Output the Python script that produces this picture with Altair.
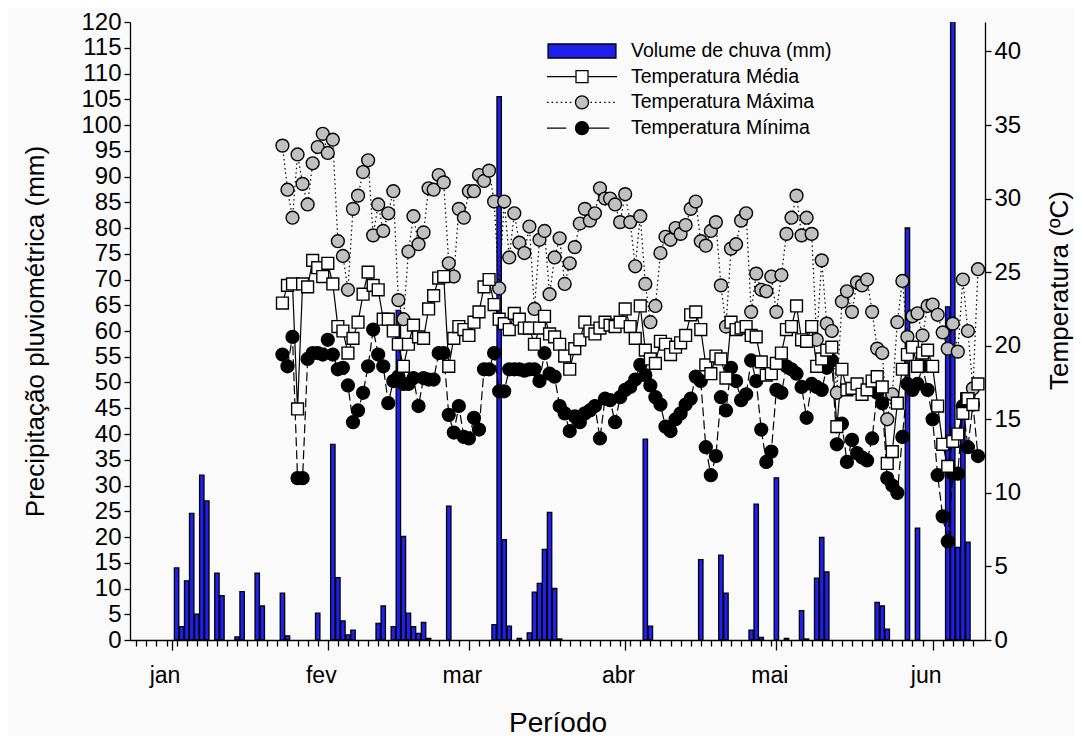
import json
import altair as alt
import pandas as pd

FONT = "Liberation Sans"
BLUE = "#2020ee"
GRAY = "#c0c0c0"

# ---- data (day index: 0 = 1 Jan) ----
rain_day = [1, 2, 3, 4, 5, 6, 7, 9, 10, 13, 14, 17, 18, 22, 23, 29, 32, 33, 34, 35, 36,
            41, 42, 44, 45, 46, 47, 48, 49, 50, 51, 55, 64, 65, 66, 67, 69, 71, 72, 73,
            74, 75, 76, 77, 94, 95, 105, 109, 110, 115, 116, 117, 120, 122, 125, 126,
            128, 129, 130, 140, 141, 142, 146, 148, 154, 155, 156, 157, 158]
rain_mm = [14.0, 2.6, 11.5, 24.6, 5.0, 32.0, 27.0, 13.0, 8.6, 0.6, 9.4, 13.0, 6.6, 9.1,
           0.8, 5.2, 38.0, 12.1, 3.7, 1.0, 1.9, 3.2, 6.6, 2.6, 64.0, 20.1, 5.2, 2.6, 1.3,
           3.4, 0.3, 26.0, 3.0, 105.5, 19.5, 2.7, 0.3, 1.4, 9.3, 11.0, 17.6, 24.8, 10.0,
           0.2, 39.0, 2.7, 15.6, 16.5, 9.1, 1.9, 26.4, 0.5, 31.5, 0.3, 5.7, 0.2, 12.0,
           19.9, 13.2, 7.3, 6.6, 2.1, 80.0, 21.7, 64.7, 125.0, 18.0, 48.0, 19.0]

temp_day = list(range(22, 161))

t_max = [33.6, 30.6, 28.7, 33.0, 31.0, 29.6, 32.4, 33.5, 34.4, 33.1,
         34.0, 27.1, 26.1, 23.8, 29.3, 30.2, 31.8, 32.6, 27.5, 29.6,
         27.8, 29.0, 30.5, 23.1, 21.8, 26.4, 28.8, 26.9, 27.7, 30.7,
         30.6, 31.6, 31.1, 25.6, 24.7, 29.3, 28.7, 30.5, 30.5, 31.6,
         31.2, 31.9, 29.8, 23.9, 29.8, 26.0, 29.0, 27.0, 26.3, 28.1,
         22.5, 27.2, 27.8, 23.5, 26.0, 27.3, 24.2, 25.6, 26.7, 28.3,
         29.3, 28.5, 29.0, 30.7, 30.0, 30.0, 29.6, 28.4, 30.3, 28.4,
         25.4, 28.8, 24.2, 21.6, 22.7, 26.3, 27.4, 27.2, 28.0, 27.6,
         28.2, 29.3, 29.8, 27.1, 26.8, 27.8, 28.4, 24.1, 21.3, 26.6,
         26.9, 28.5, 29.0, 22.3, 24.9, 23.8, 23.7, 24.7, 22.3, 24.8,
         27.6, 28.7, 30.2, 27.5, 28.7, 27.6, 20.4, 25.8, 21.5, 21.0,
         16.8, 23.0, 23.7, 22.3, 24.3, 24.1, 24.5, 22.3, 19.8, 19.5,
         15.0, 16.7, 21.6, 24.4, 20.6, 22.0, 22.2, 20.7, 22.7, 22.8,
         22.1, 20.9, 19.8, 21.5, 19.6, 24.5, 21.0, 17.1, 25.2]

t_med = [22.9, 24.1, 24.2, 15.7, 24.2, 24.0, 25.8, 25.3, 24.7, 25.6,
         24.2, 21.3, 21.0, 19.5, 20.5, 21.6, 23.5, 25.0, 24.1, 23.8,
         21.8, 21.8, 21.0, 20.1, 18.6, 20.1, 21.4, 20.6, 20.5, 22.5,
         23.4, 24.6, 24.7, 18.6, 20.5, 21.3, 21.1, 20.7, 21.6, 22.3,
         24.0, 24.5, 22.8, 21.8, 21.5, 21.1, 22.2, 21.8, 21.2, 21.2,
         20.1, 21.2, 22.0, 20.8, 20.6, 20.1, 19.3, 18.4, 19.8, 20.4,
         21.6, 21.0, 20.8, 21.2, 21.6, 21.4, 21.3, 21.6, 22.5, 21.3,
         20.5, 22.7, 19.7, 19.1, 18.8, 20.3, 20.1, 19.4, 19.9, 20.2,
         20.7, 22.1, 22.3, 21.1, 18.7, 18.1, 19.3, 19.1, 17.8, 21.6,
         21.1, 21.2, 21.3, 20.7, 20.6, 18.9, 18.0, 18.1, 18.8, 19.5,
         21.1, 21.3, 22.7, 20.4, 20.3, 21.3, 18.6, 19.1, 19.7, 19.9,
         14.5, 18.4, 17.0, 17.1, 17.4, 16.7, 17.0, 17.6, 17.9, 17.2,
         12.0, 12.8, 16.1, 18.4, 19.4, 19.9, 18.6, 19.5, 19.7, 18.6,
         15.9, 13.3, 11.8, 13.5, 14.0, 15.4, 16.4, 16.0, 17.4]

t_min = [19.4, 18.6, 20.6, 11.0, 11.0, 19.1, 19.5, 19.5, 19.4, 20.4,
         19.4, 18.4, 18.5, 17.3, 14.8, 15.6, 16.8, 18.6, 21.1, 19.4,
         18.6, 16.1, 17.6, 17.9, 17.4, 17.4, 17.8, 15.9, 17.8, 17.7,
         17.7, 19.5, 19.5, 15.3, 14.1, 15.9, 13.8, 13.7, 15.1, 14.3,
         18.4, 18.4, 19.5, 16.9, 16.9, 18.4, 18.4, 18.4, 18.3, 18.4,
         18.4, 17.6, 19.5, 18.1, 17.9, 15.9, 15.4, 14.2, 15.2, 14.8,
         15.4, 15.6, 15.9, 13.7, 16.4, 16.3, 14.8, 16.5, 17.0, 17.2,
         17.7, 18.7, 18.0, 17.3, 16.5, 16.0, 14.5, 14.2, 15.0, 15.4,
         16.0, 16.4, 17.9, 17.6, 13.1, 11.2, 12.5, 16.5, 15.6, 18.5,
         17.6, 16.3, 16.7, 19.0, 17.6, 14.3, 12.1, 12.8, 17.0, 16.8,
         18.6, 18.4, 18.1, 17.2, 15.1, 17.4, 17.2, 17.0, 18.5, 19.0,
         13.3, 14.7, 12.1, 13.6, 12.7, 12.4, 12.2, 13.7, 16.8, 16.1,
         11.0, 10.5, 10.0, 13.8, 17.4, 17.0, 17.4, 18.6, 17.0, 15.0,
         11.2, 8.4, 6.7, 11.3, 11.3, 15.9, 13.1, 16.0, 12.5]

month_start = [0, 31, 59, 90, 120, 151]
month_label = ["jan", "fev", "mar", "abr", "mai", "jun"]

series_names = ["Volume de chuva (mm)", "Temperatura Média",
                "Temperatura Máxima", "Temperatura Mínima"]

rain_df = pd.DataFrame({"day": rain_day, "mm": rain_mm})
med_df = pd.DataFrame({"day": temp_day, "value": t_med})
max_df = pd.DataFrame({"day": temp_day, "value": t_max})
min_df = pd.DataFrame({"day": temp_day, "value": t_min})
leg_df = pd.DataFrame({"series": series_names, "day": [None] * 4, "value": [None] * 4})

# ---- legend symbol paths (unit box -1..1) ----
def circle(r):
    return f"M{-r},0A{r},{r},0,1,0,{r},0A{r},{r},0,1,0,{-r},0Z"

def dots(a, b, step=0.13, ln=0.045):
    out, p = "", a
    while p + ln <= b + 1e-9:
        out += f"M{p:.3f},0H{p + ln:.3f}"
        p += step
    return out

sym_rain = "M-0.97,-0.2H0.97V0.2H-0.97Z"
sym_med = "M-1,0H-0.171M0.171,0H1M-0.171,-0.171H0.171V0.171H-0.171Z"
sym_max = dots(-1, -0.24) + dots(0.24, 1) + circle(0.186)
sym_min = "M-1,0H-0.45M0.2,0H0.78" + circle(0.186)

# ---- scales & axes ----
xscale = alt.Scale(domain=[-7.25, 160.4], nice=False, zero=False)
ms = "[" + ",".join(str(v) for v in month_start) + "]"
month_test = f"indexof({ms}, datum.value) >= 0"
label_expr = f"{month_test} ? {json.dumps(month_label)}[indexof({ms}, datum.value)] : ''"
xvalues = sorted(set(month_start) | set(range(-7, 160, 2)))

common = dict(domainColor="black", domainWidth=1.3, tickColor="black", tickWidth=1.3,
              labelFont=FONT, labelColor="black", labelOverlap=False, grid=False,
              titleFont=FONT, titleColor="black", titleFontWeight="normal")

xaxis = alt.Axis(values=xvalues, labelExpr=label_expr,
                 tickSize={"condition": {"test": month_test, "value": 10}, "value": 6},
                 labelFontSize=23, labelOffset=-7, labelPadding=14, labelFlush=False,
                 title="Período", titleFontSize=28, titleBaseline="alphabetic", titleY=91,
                 **common)

yaxis_left = alt.Axis(values=list(range(0, 121, 5)), orient="left", tickSize=6,
                      labelFontSize=24, labelPadding=3,
                      title="Precipitação pluviométrica (mm)", titleFontSize=26,
                      titleAngle=270, titleX=-95, titleBaseline="middle", **common)

yaxis_right = alt.Axis(values=list(range(0, 41, 5)), orient="right", tickSize=6,
                       labelFontSize=24, labelPadding=3,
                       title="Temperatura (ºC)", titleFontSize=26,
                       titleAngle=270, titleX=74, titleY=268, titleBaseline="middle",
                       **common)

X = alt.X("day:Q", scale=xscale, axis=xaxis)
YT = alt.Y("value:Q", scale=alt.Scale(domain=[0, 42], nice=False), axis=yaxis_right)

bars = alt.Chart(rain_df).mark_bar(width=4.4, fill=BLUE, stroke="black",
                                   strokeWidth=1.3, clip=True).encode(
    x=X,
    y=alt.Y("mm:Q", scale=alt.Scale(domain=[0, 120], nice=False), axis=yaxis_left),
)

def line(df, dash):
    kw = dict(stroke="black", strokeWidth=1.2)
    if dash:
        kw["strokeDash"] = dash
    return alt.Chart(df).mark_line(**kw).encode(x=X, y=YT)

def pts(df, shape, fill, size):
    return alt.Chart(df).mark_point(shape=shape, filled=True, fill=fill, stroke="black",
                                    strokeWidth=1.4, size=size, opacity=1).encode(x=X, y=YT)

leg = alt.Legend(title=None, orient="none", legendX=416, legendY=18, padding=0,
                 symbolSize=4900, symbolStrokeWidth=1.3, clipHeight=22,
                 labelFont=FONT, labelFontSize=19.5, labelColor="black", labelOffset=13,
                 rowPadding=3.7, labelLimit=400)

legend_layer = alt.Chart(leg_df).mark_point(filled=True, strokeWidth=1.3,
                                            opacity=1).encode(
    x=X, y=YT,
    fill=alt.Fill("series:N", scale=alt.Scale(domain=series_names,
                                              range=[BLUE, "white", GRAY, "black"]),
                  legend=leg),
    stroke=alt.Stroke("series:N", scale=alt.Scale(domain=series_names,
                                                  range=["black"] * 4),
                      legend=leg),
    shape=alt.Shape("series:N", scale=alt.Scale(domain=series_names,
                                                range=[sym_rain, sym_med, sym_max, sym_min]),
                    legend=leg),
)

temps = alt.layer(
    line(med_df, None), line(max_df, [1.5, 3]), line(min_df, [9, 4]),
    pts(min_df, "circle", "black", 165),
    pts(max_df, "circle", GRAY, 165),
    pts(med_df, "square", "white", 140),
    legend_layer,
)

chart = alt.layer(bars, temps).resolve_scale(y="independent").properties(
    width=855, height=618,
    autosize=alt.AutoSizeParams(type="none"),
    padding={"left": 122, "top": 14, "right": 89, "bottom": 96},
    background="#fafafa",
).configure_view(stroke=None)

chart.save("out.html", embed_options={"renderer": "svg", "actions": False})
